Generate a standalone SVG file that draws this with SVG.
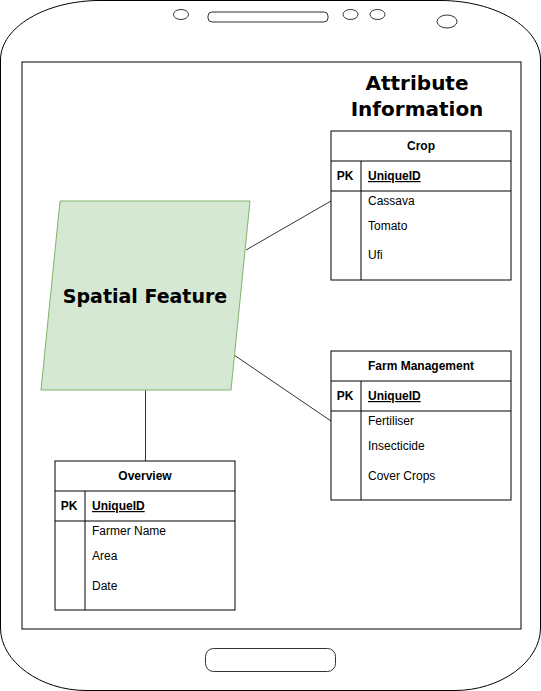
<svg xmlns="http://www.w3.org/2000/svg" width="541" height="691" viewBox="0 0 541 691">
<style>
.ol{fill:#fff;stroke:#000;stroke-width:1}
.dev{fill:none;stroke:#333;stroke-width:1}
.tb{fill:#fff;stroke:#000;stroke-width:1}
.ln{stroke:#000;stroke-width:1;fill:none}
.h{font-family:"Liberation Sans",Arial,sans-serif;font-size:12px;font-weight:bold;fill:#000}
.t{font-family:"Liberation Sans",Arial,sans-serif;font-size:12px;fill:#000}
.big{font-family:"DejaVu Sans",Verdana,sans-serif;font-weight:bold;fill:#000}
.conn{stroke:#333;stroke-width:1;fill:none}
</style>
<g id="phone">
<path class="ol" d="M100,0.5 H440 C495,0.5 540.5,27 540.5,60 V628 C540.5,662 500,690.5 455,690.5 H86 C41,690.5 0.5,662 0.5,628 V60 C0.5,27 46,0.5 100,0.5 Z"/>
<rect class="ol" x="22" y="62" width="499" height="567"/>
<ellipse class="dev" cx="181" cy="14.5" rx="7.5" ry="5"/>
<rect class="dev" x="208" y="12" width="120" height="10" rx="4"/>
<ellipse class="dev" cx="350.5" cy="14.5" rx="7.5" ry="5"/>
<ellipse class="dev" cx="377.5" cy="14.5" rx="7.5" ry="5"/>
<ellipse class="dev" cx="447" cy="21.5" rx="10" ry="6.5"/>
<rect class="dev" x="205.5" y="648.5" width="130" height="23" rx="8"/>
</g>
<g id="title">
<text class="big" font-size="20" x="417" y="90" text-anchor="middle">Attribute</text>
<text class="big" font-size="20" x="417" y="116" text-anchor="middle">Information</text>
</g>
<g id="connectors">
<line class="conn" x1="246" y1="250" x2="331" y2="201"/>
<line class="conn" x1="234" y1="355" x2="331" y2="421"/>
<line class="conn" x1="145.5" y1="390" x2="145.5" y2="461"/>
</g>
<g id="spatial-feature">
<polygon points="60,201 250,201 231,390 41,390" fill="#d5e8d4" stroke="#82b366" stroke-width="1"/>
<text class="big" font-size="19" x="145" y="303" text-anchor="middle">Spatial Feature</text>
</g>
<g id="crop">
<rect class="tb" x="331" y="131" width="180" height="149"/>
<line class="ln" x1="331" y1="161" x2="511" y2="161"/>
<line class="ln" x1="331" y1="191" x2="511" y2="191"/>
<line class="ln" x1="361" y1="161" x2="361" y2="280"/>
<text class="h" x="421" y="150" text-anchor="middle">Crop</text>
<text class="h" x="345" y="180" text-anchor="middle">PK</text>
<text class="h" x="368" y="180" text-decoration="underline">UniqueID</text>
<text class="t" x="368" y="205">Cassava</text>
<text class="t" x="368" y="230">Tomato</text>
<text class="t" x="368" y="259">Ufi</text>
</g>
<g id="farm-management">
<rect class="tb" x="331" y="351" width="180" height="149"/>
<line class="ln" x1="331" y1="381" x2="511" y2="381"/>
<line class="ln" x1="331" y1="411" x2="511" y2="411"/>
<line class="ln" x1="361" y1="381" x2="361" y2="500"/>
<text class="h" x="421" y="370" text-anchor="middle">Farm Management</text>
<text class="h" x="345" y="400" text-anchor="middle">PK</text>
<text class="h" x="368" y="400" text-decoration="underline">UniqueID</text>
<text class="t" x="368" y="425">Fertiliser</text>
<text class="t" x="368" y="450">Insecticide</text>
<text class="t" x="368" y="480">Cover Crops</text>
</g>
<g id="overview">
<rect class="tb" x="55" y="461" width="180" height="149"/>
<line class="ln" x1="55" y1="491" x2="235" y2="491"/>
<line class="ln" x1="55" y1="521" x2="235" y2="521"/>
<line class="ln" x1="85" y1="491" x2="85" y2="610"/>
<text class="h" x="145" y="480" text-anchor="middle">Overview</text>
<text class="h" x="69" y="510" text-anchor="middle">PK</text>
<text class="h" x="92" y="510" text-decoration="underline">UniqueID</text>
<text class="t" x="92" y="535">Farmer Name</text>
<text class="t" x="92" y="560">Area</text>
<text class="t" x="92" y="590">Date</text>
</g>
</svg>
